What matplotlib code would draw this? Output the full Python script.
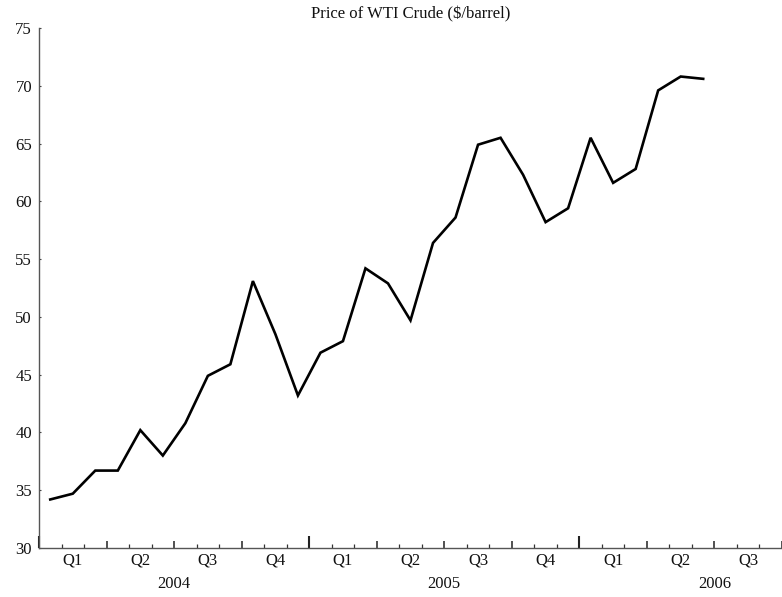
import matplotlib
matplotlib.use("Agg")
import matplotlib.pyplot as plt
import matplotlib.transforms as mtransforms

plt.rcParams["font.family"] = ["Liberation Serif", "DejaVu Serif"]

# monthly WTI price, Jan 2004 .. Jun 2006
months = [
    "2004-01", "2004-02", "2004-03", "2004-04", "2004-05", "2004-06",
    "2004-07", "2004-08", "2004-09", "2004-10", "2004-11", "2004-12",
    "2005-01", "2005-02", "2005-03", "2005-04", "2005-05", "2005-06",
    "2005-07", "2005-08", "2005-09", "2005-10", "2005-11", "2005-12",
    "2006-01", "2006-02", "2006-03", "2006-04", "2006-05", "2006-06",
]
price = [
    34.2, 34.7, 36.7, 36.7, 40.2, 38.0,
    40.8, 44.9, 45.9, 53.1, 48.5, 43.2,
    46.9, 47.9, 54.2, 52.9, 49.7, 56.4,
    58.6, 64.9, 65.5, 62.3, 58.2, 59.4,
    65.5, 61.6, 62.8, 69.6, 70.8, 70.6,
]
quarter_labels = ["Q1", "Q2", "Q3", "Q4"] * 2 + ["Q1", "Q2", "Q3"]
year_labels = ["2004", "2005", "2006"]
n_months_axis = 33  # axis runs to end of Q3 2006

FS = 12

fig = plt.figure(figsize=(7.82, 5.97), dpi=100)
ax = fig.add_axes([39 / 782, 49 / 597, 743 / 782, 520 / 597])

x = [i + 0.5 for i in range(len(months))]
ax.plot(x, price, color="black", lw=1.9, solid_joinstyle="miter")

ax.set_xlim(0, n_months_axis)
ax.set_ylim(30, 75)
ax.set_yticks(range(30, 80, 5))
ax.tick_params(axis="y", direction="in", length=1.5, width=0.8,
               color="#444444", pad=5, labelsize=FS, labelcolor="#111111")

for s in ("top", "right"):
    ax.spines[s].set_visible(False)
for s in ("left", "bottom"):
    ax.spines[s].set_color("#555555")
    ax.spines[s].set_linewidth(1.0)

# month / quarter / year ticks pointing up
ax.set_xticks(range(0, n_months_axis + 1, 3))
ax.set_xticks(range(0, n_months_axis + 1), minor=True)
ax.tick_params(axis="x", which="major", direction="in", length=5.2, width=1.1,
               color="#222222", labelbottom=False)
ax.tick_params(axis="x", which="minor", direction="in", length=3.0, width=0.9,
               color="#333333")
for t, pos in zip(ax.xaxis.get_major_ticks(), range(0, n_months_axis + 1, 3)):
    if pos % 12 == 0:
        t.tick1line.set_markersize(8.8)
        t.tick1line.set_markeredgewidth(1.5)

trans = mtransforms.blended_transform_factory(ax.transData, ax.transAxes)
for i, q in enumerate(quarter_labels):
    ax.annotate(q, xy=(i * 3 + 1.5, 0), xycoords=trans, xytext=(0, -3.5),
                textcoords="offset points", ha="center", va="top", fontsize=FS,
                color="#111111")
for i, yr in enumerate(year_labels):
    ax.annotate(yr, xy=(i * 12 + 6, 0), xycoords=trans, xytext=(0, -20.5),
                textcoords="offset points", ha="center", va="top", fontsize=FS,
                color="#111111")

ax.set_title("Price of WTI Crude ($/barrel)", fontsize=FS, pad=7, color="#111111")

fig.savefig("out.png", dpi=100)
